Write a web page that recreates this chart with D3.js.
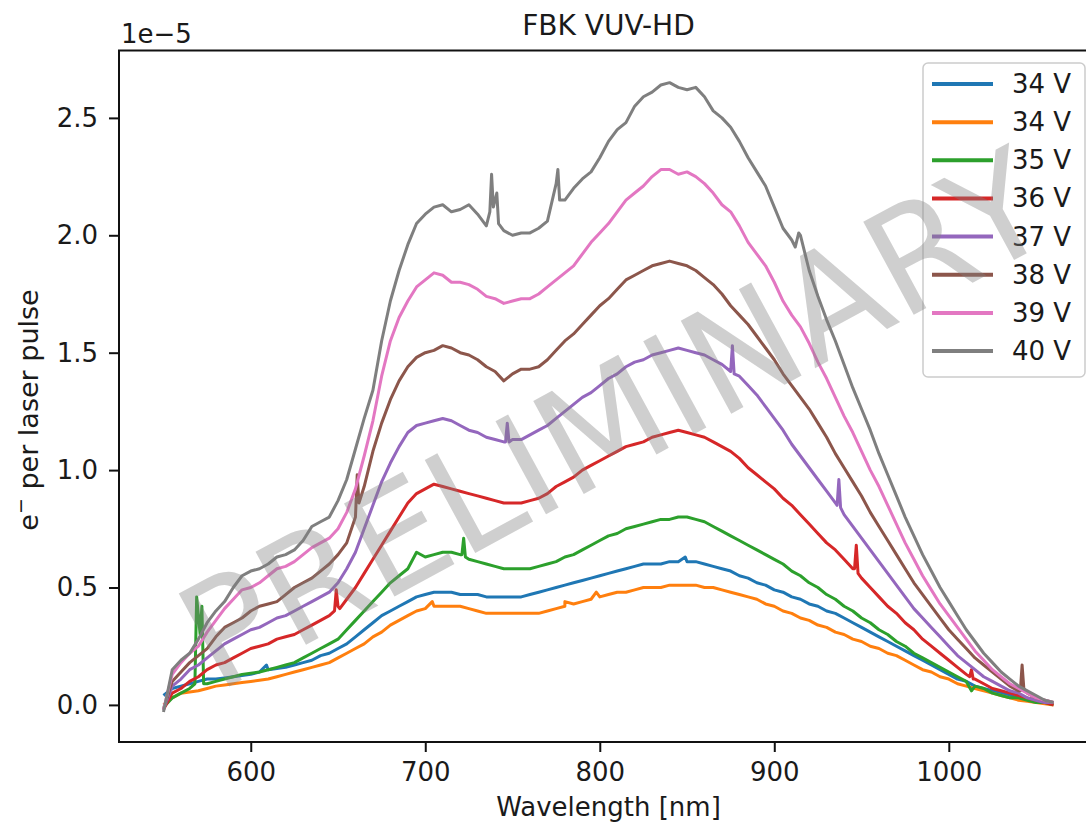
<!DOCTYPE html>
<html>
<head>
<meta charset="utf-8">
<script src="https://cdn.jsdelivr.net/npm/d3@7"></script>
<style>
  body { margin: 0; background: #fff; }
  text { font-family: "DejaVu Sans", sans-serif; fill: #1a1a1a; }
</style>
</head>
<body>
<div id="chart"></div>
<script>
// wavelength grids (nm): main 10 nm grid and the in-between 5 nm points
const wavelengths = [550,560,570,580,590,600,610,620,630,640,650,660,670,680,690,700,710,720,730,740,
  750,760,770,780,790,800,810,820,830,840,850,860,870,880,890,900,910,920,930,940,
  950,960,970,980,990,1000,1010,1020,1030,1040,1050,1060];
const midWavelengths = [555,565,575,585,595,605,615,625,635,645,655,665,675,685,695,705,715,725,735,745,
  755,765,775,785,795,805,815,825,835,845,855,865,875,885,895,905,915,925,935,945,
  955,965,975,985,995,1005,1015,1025,1035,1045,1055];

const labels = ["34 V", "34 V", "35 V", "36 V", "37 V", "38 V", "39 V", "40 V"];
const colors = ["#1f77b4", "#ff7f0e", "#2ca02c", "#d62728", "#9467bd", "#8c564b", "#e377c2", "#7f7f7f"];

// values in units of 1e-5 e- per laser pulse, on the 10 nm grid
const v34a = [0.04,0.08,0.10,0.11,0.12,0.13,0.15,0.16,0.18,0.21,0.24,0.29,0.35,0.40,0.44,0.47,0.48,0.47,0.47,0.46,
  0.46,0.47,0.49,0.51,0.53,0.55,0.57,0.59,0.60,0.61,0.61,0.60,0.58,0.55,0.52,0.49,0.46,0.43,0.40,0.37,
  0.33,0.29,0.25,0.21,0.17,0.13,0.10,0.07,0.05,0.03,0.02,0.01];
const v34b = [0.00,0.05,0.06,0.08,0.09,0.10,0.11,0.13,0.15,0.17,0.20,0.24,0.29,0.34,0.38,0.41,0.42,0.42,0.40,0.39,
  0.39,0.39,0.40,0.42,0.44,0.46,0.48,0.49,0.50,0.51,0.51,0.50,0.49,0.47,0.45,0.42,0.39,0.36,0.33,0.30,
  0.27,0.24,0.21,0.17,0.14,0.11,0.08,0.06,0.04,0.02,0.01,0.00];
const v35 = [-0.01,0.05,0.38,0.10,0.12,0.135,0.15,0.17,0.20,0.24,0.28,0.36,0.44,0.52,0.58,0.63,0.65,0.64,0.61,0.59,
  0.58,0.58,0.60,0.63,0.66,0.70,0.73,0.76,0.78,0.79,0.80,0.78,0.74,0.70,0.66,0.62,0.57,0.52,0.47,0.42,
  0.37,0.32,0.27,0.22,0.18,0.14,0.10,0.07,0.04,0.03,0.01,0.00];
const v36 = [-0.02,0.07,0.12,0.17,0.20,0.24,0.26,0.29,0.32,0.36,0.42,0.50,0.62,0.74,0.86,0.92,0.93,0.91,0.89,0.87,
  0.86,0.87,0.90,0.95,1.00,1.04,1.08,1.11,1.14,1.16,1.16,1.14,1.10,1.05,0.98,0.92,0.85,0.77,0.69,0.62,
  0.54,0.46,0.39,0.32,0.25,0.19,0.13,0.09,0.06,0.04,0.02,0.00];
const v37 = [-0.02,0.11,0.17,0.23,0.28,0.32,0.35,0.38,0.42,0.46,0.52,0.65,0.85,1.03,1.16,1.20,1.22,1.19,1.16,1.13,
  1.13,1.15,1.19,1.25,1.31,1.36,1.41,1.46,1.49,1.51,1.51,1.49,1.45,1.40,1.32,1.22,1.11,1.01,0.91,0.81,
  0.71,0.61,0.51,0.41,0.33,0.25,0.18,0.12,0.08,0.05,0.02,0.01];
const v38 = [-0.02,0.14,0.21,0.29,0.35,0.40,0.43,0.47,0.52,0.57,0.64,0.80,1.08,1.30,1.44,1.50,1.53,1.50,1.47,1.42,
  1.41,1.43,1.47,1.55,1.62,1.70,1.77,1.83,1.87,1.89,1.87,1.82,1.75,1.66,1.57,1.47,1.36,1.26,1.14,1.01,
  0.89,0.76,0.64,0.52,0.42,0.32,0.24,0.17,0.11,0.06,0.03,0.01];
const v39 = [-0.02,0.18,0.25,0.36,0.45,0.50,0.55,0.59,0.64,0.69,0.75,0.92,1.21,1.55,1.72,1.81,1.83,1.80,1.77,1.73,
  1.72,1.73,1.78,1.84,1.92,2.01,2.10,2.18,2.25,2.28,2.27,2.22,2.13,2.04,1.92,1.80,1.66,1.54,1.39,1.23,
  1.08,0.93,0.77,0.62,0.49,0.38,0.28,0.19,0.12,0.07,0.03,0.01];
const v40 = [-0.03,0.19,0.28,0.40,0.50,0.57,0.60,0.64,0.70,0.78,0.87,1.09,1.34,1.72,1.96,2.09,2.13,2.11,2.09,2.15,
  2.00,2.01,2.06,2.15,2.24,2.33,2.45,2.55,2.61,2.65,2.62,2.59,2.50,2.40,2.27,2.12,1.98,1.85,1.64,1.45,
  1.26,1.07,0.89,0.72,0.57,0.44,0.32,0.22,0.14,0.08,0.04,0.01];

// values at the in-between points
const m34a = [0.07,0.09,0.11,0.115,0.125,0.14,0.155,0.17,0.19,0.22,0.26,0.32,0.38,0.42,0.46,0.48,0.48,0.47,0.46,0.46,
  0.46,0.48,0.50,0.52,0.54,0.56,0.58,0.60,0.60,0.61,0.61,0.59,0.57,0.54,0.51,0.48,0.45,0.42,0.39,0.35,
  0.31,0.27,0.23,0.19,0.15,0.11,0.08,0.06,0.04,0.02,0.01];
const m34b = [0.03,0.055,0.07,0.085,0.095,0.105,0.12,0.14,0.16,0.18,0.22,0.26,0.31,0.36,0.40,0.42,0.42,0.41,0.39,0.39,
  0.39,0.39,0.41,0.43,0.45,0.47,0.48,0.50,0.50,0.51,0.51,0.50,0.48,0.46,0.43,0.40,0.37,0.34,0.31,0.28,
  0.25,0.22,0.19,0.15,0.12,0.09,0.07,0.05,0.03,0.015,0.005];
const m35 = [0.03,0.07,0.09,0.11,0.13,0.14,0.16,0.18,0.22,0.26,0.32,0.40,0.48,0.55,0.65,0.64,0.65,0.62,0.60,0.58,
  0.58,0.59,0.61,0.64,0.68,0.72,0.75,0.77,0.79,0.80,0.79,0.76,0.72,0.68,0.64,0.60,0.55,0.50,0.45,0.40,
  0.35,0.30,0.25,0.20,0.16,0.12,0.08,0.05,0.03,0.02,0.01];
const m36 = [0.05,0.10,0.15,0.18,0.22,0.25,0.28,0.30,0.34,0.38,0.45,0.56,0.68,0.80,0.90,0.94,0.92,0.90,0.88,0.86,
  0.86,0.88,0.93,0.97,1.02,1.06,1.10,1.12,1.15,1.17,1.15,1.12,1.08,1.01,0.95,0.88,0.81,0.73,0.66,0.58,
  0.50,0.42,0.35,0.28,0.22,0.16,0.11,0.07,0.05,0.03,0.01];
const m37 = [0.08,0.15,0.20,0.26,0.30,0.33,0.37,0.40,0.44,0.48,0.58,0.75,0.95,1.10,1.19,1.21,1.21,1.17,1.14,1.12,
  1.13,1.17,1.22,1.28,1.33,1.39,1.44,1.47,1.50,1.52,1.50,1.47,1.42,1.36,1.27,1.17,1.06,0.96,0.86,0.76,
  0.66,0.56,0.46,0.37,0.29,0.21,0.15,0.10,0.06,0.03,0.01];
const m38 = [0.10,0.18,0.24,0.33,0.37,0.42,0.44,0.50,0.54,0.60,0.69,0.93,1.20,1.38,1.48,1.51,1.52,1.49,1.44,1.38,
  1.43,1.44,1.51,1.58,1.66,1.73,1.81,1.85,1.88,1.88,1.85,1.79,1.70,1.62,1.52,1.41,1.31,1.20,1.07,0.95,
  0.82,0.70,0.58,0.47,0.37,0.28,0.20,0.14,0.08,0.05,0.02];
const m39 = [0.13,0.22,0.31,0.41,0.49,0.52,0.58,0.61,0.67,0.71,0.82,1.06,1.40,1.65,1.78,1.84,1.80,1.79,1.74,1.71,
  1.73,1.75,1.81,1.87,1.97,2.05,2.15,2.21,2.28,2.26,2.25,2.18,2.10,1.97,1.87,1.72,1.61,1.46,1.31,1.16,
  1.00,0.85,0.69,0.55,0.43,0.33,0.23,0.15,0.09,0.05,0.02];
const m40 = [0.15,0.22,0.35,0.44,0.55,0.58,0.63,0.66,0.76,0.80,0.96,1.22,1.55,1.85,2.05,2.12,2.10,2.13,2.04,2.02,
  2.01,2.03,2.22,2.20,2.27,2.40,2.48,2.59,2.64,2.63,2.63,2.53,2.46,2.33,2.21,2.03,2.00,1.74,1.55,1.35,
  1.17,0.98,0.80,0.64,0.50,0.38,0.27,0.18,0.11,0.06,0.02];

// narrow spikes: [nm, value]
const x34a = [[609,0.17],[849,0.63]];
const x34b = [[704,0.44],[780,0.44],[798,0.48]];
const x35 = [[568,0.09],[569,0.46],[571,0.30],[572,0.42],[573,0.09],[721,0.64],[722,0.71],[723,0.63],[1013,0.06]];
const x36 = [[648,0.40],[649,0.49],[651,0.41],[946,0.58],[947,0.68],[948,0.56],[1012,0.12],[1013,0.15],[1014,0.11]];
const x37 = [[746,1.12],[747,1.20],[748,1.12],[876,1.53],[877,1.41],[936,0.85],[937,0.96],[938,0.84]];
const x38 = [[661,0.98],[662,0.86],[1041,0.06],[1042,0.17],[1043,0.07]];
const x39 = [];
const x40 = [[737,2.10],[738,2.26],[739,2.12],[741,2.18],[742,2.05],[776,2.28],[777,2.15],[912,1.95],[914,2.01]];

const seriesValues = [v34a, v34b, v35, v36, v37, v38, v39, v40];
const seriesMids = [m34a, m34b, m35, m36, m37, m38, m39, m40];
const seriesExtras = [x34a, x34b, x35, x36, x37, x38, x39, x40];

const yTicks = [0.0, 0.5, 1.0, 1.5, 2.0, 2.5];
const xTicks = [600, 700, 800, 900, 1000];

const W = 1086, H = 823;
const plot = {left: 119, top: 50.5, right: 1098, bottom: 742};

const svg = d3.select("#chart").append("svg")
  .attr("width", W).attr("height", H);

const x = d3.scaleLinear().domain([524.5, 1085.5]).range([plot.left, plot.right]);
const y = d3.scaleLinear().domain([-0.158, 2.787]).range([plot.bottom, plot.top]);

// build series: grid points, in-between points and spikes, sorted by wavelength
const series = seriesValues.map((vals, i) => {
  const pts = wavelengths.map((w, j) => [w, vals[j]])
    .concat(midWavelengths.map((w, j) => [w, seriesMids[i][j]]))
    .concat(seriesExtras[i]);
  pts.sort((a, b) => a[0] - b[0]);
  return {label: labels[i], color: colors[i], points: pts};
});

const line = d3.line().x(d => x(d[0])).y(d => y(d[1]));

svg.append("g")
  .selectAll("path")
  .data(series)
  .join("path")
    .attr("d", d => line(d.points))
    .attr("fill", "none")
    .attr("stroke", d => d.color)
    .attr("stroke-width", 3)
    .attr("stroke-linejoin", "round");

// axes
const xAxis = svg.append("g")
  .attr("transform", `translate(0,${plot.bottom})`)
  .call(d3.axisBottom(x).tickValues(xTicks).tickFormat(d3.format("d"))
    .tickSize(10).tickPadding(11).tickSizeOuter(0));
const yAxis = svg.append("g")
  .attr("transform", `translate(${plot.left},0)`)
  .call(d3.axisLeft(y).tickValues(yTicks).tickFormat(d3.format(".1f"))
    .tickSize(10).tickPadding(11).tickSizeOuter(0));

[xAxis, yAxis].forEach(g => {
  g.select(".domain").remove();
  g.selectAll(".tick line").attr("stroke", "#111").attr("stroke-width", 2);
  g.selectAll(".tick text").style("font-size", "26px").attr("fill", "#1a1a1a");
});

// spines
svg.append("rect")
  .attr("x", plot.left).attr("y", plot.top)
  .attr("width", plot.right - plot.left).attr("height", plot.bottom - plot.top)
  .attr("fill", "none").attr("stroke", "#111").attr("stroke-width", 2);

// offset text, title, axis labels
svg.append("text").attr("x", 121).attr("y", 43).style("font-size", "26px").text("1e\u22125");

svg.append("text").attr("x", (plot.left + plot.right) / 2).attr("y", 35)
  .attr("text-anchor", "middle").style("font-size", "28px").text("FBK VUV-HD");

svg.append("text").attr("x", (plot.left + plot.right) / 2).attr("y", 816)
  .attr("text-anchor", "middle").style("font-size", "26px").text("Wavelength [nm]");

const yl = svg.append("text")
  .attr("transform", `translate(38,410) rotate(-90)`)
  .attr("text-anchor", "middle").style("font-size", "27px");
yl.append("tspan").text("e");
yl.append("tspan").attr("dy", -11).style("font-size", "19px").text("\u2212");
yl.append("tspan").attr("dy", 11).text(" per laser pulse");

// legend
const leg = svg.append("g");
leg.append("rect")
  .attr("x", 923).attr("y", 63).attr("width", 162).attr("height", 314)
  .attr("rx", 5).attr("fill", "#fff").attr("fill-opacity", 0.8)
  .attr("stroke", "#cccccc").attr("stroke-width", 1.5);
const rows = leg.selectAll("g.row").data(series).join("g")
  .attr("class", "row")
  .attr("transform", (d, i) => `translate(0,${84 + i * 38.15})`);
rows.append("line")
  .attr("x1", 932).attr("x2", 993)
  .attr("stroke", d => d.color).attr("stroke-width", 4);
rows.append("text")
  .attr("x", 1012).attr("y", 9)
  .style("font-size", "26px").text(d => d.label);

// watermark
svg.append("text")
  .attr("transform", "translate(614,420) rotate(-28.5)")
  .attr("text-anchor", "middle").attr("dominant-baseline", "central")
  .style("font-size", "145px").style("fill", "#808080").style("fill-opacity", 0.38)
  .text("PRELIMINARY");
</script>
</body>
</html>
